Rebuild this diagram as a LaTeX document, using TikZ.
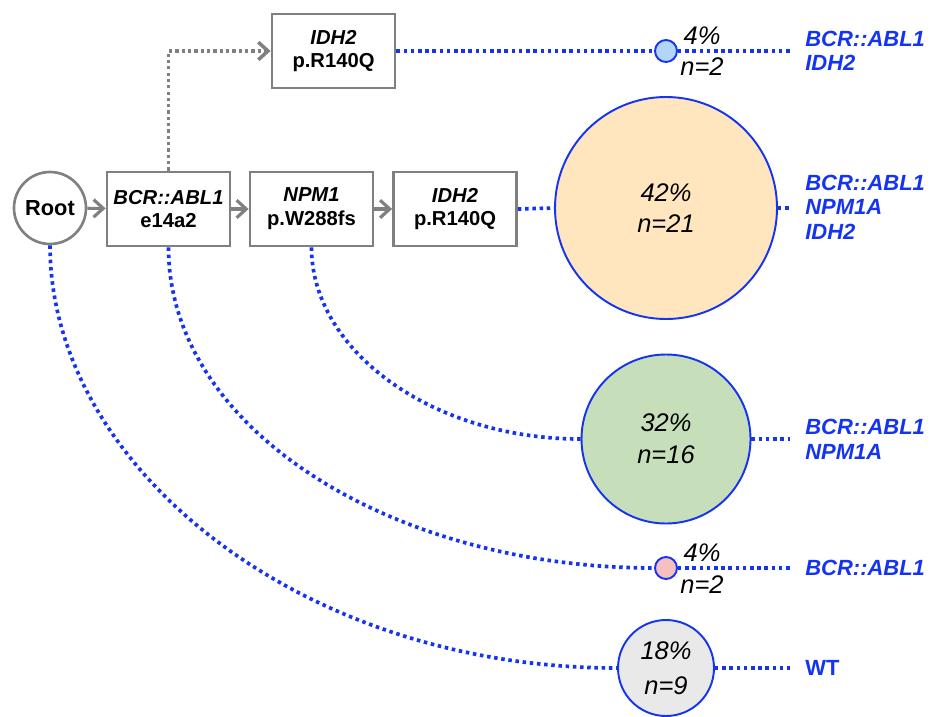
\documentclass[tikz,border=0pt]{standalone}
\usepackage{fontspec}
\setmainfont{Liberation Sans}
\usetikzlibrary{arrows.meta}

\definecolor{treegray}{HTML}{808080}
\definecolor{cloneblue}{HTML}{1434F0}
\definecolor{fillblue}{HTML}{B2D6F6}
\definecolor{fillorange}{HTML}{FFE6BF}
\definecolor{fillgreen}{HTML}{C6DFBA}
\definecolor{fillpink}{HTML}{F7C0C0}
\definecolor{fillgray}{HTML}{E9E9E9}

\tikzset{
  mutbox/.style={draw=treegray, line width=1.6pt, minimum width=2.46cm, minimum height=1.48cm,
    inner sep=0pt, align=center, font=\fontsize{11.5}{13.6}\selectfont\bfseries},
  rootnode/.style={circle, draw=treegray, line width=1.5pt, minimum size=1.44cm, inner sep=0pt,
    font=\fontsize{12.4}{14}\selectfont\bfseries},
  clone/.style={circle, draw=cloneblue, line width=1.1pt, inner sep=0pt, align=center,
    font=\fontsize{14.5}{18}\selectfont\itshape},
  clonetext/.style={align=center, inner sep=0pt, font=\fontsize{14.5}{18}\selectfont\itshape},
  genolabel/.style={anchor=west, align=left, inner sep=0pt, text=cloneblue,
    font=\fontsize{12.5}{14}\selectfont\bfseries\itshape},
  treearrow/.style={->, treegray, line width=1.8pt},
  treedotted/.style={->, treegray, line width=2pt, dash pattern=on 1.8pt off 1.8pt},
  clonelink/.style={cloneblue, line width=2.1pt, dash pattern=on 2pt off 2.1pt},
  clonecurve/.style={out=-90, in=180, out looseness=0.8, in looseness=1.15},
}

\begin{document}
\begin{tikzpicture}[>={Straight Barb[length=5.5pt,width=10pt]}]
\useasboundingbox (0,0) rectangle (18.68,-14.32);

% mutation tree
                \node at (1.00,-4.16) (root) [rootnode] {Root};
                \node at (3.37,-4.18) (bcr) [mutbox] {\itshape BCR::ABL1\\e14a2};
                \node at (6.23,-4.18) (npm) [mutbox] {\itshape NPM1\\p.W288fs};
                \node at (9.10,-4.18) (idhlow) [mutbox] {\itshape IDH2\\p.R140Q};
                \node at (6.67,-1.02) (idhtop) [mutbox] {\itshape IDH2\\p.R140Q};
                \draw [treearrow] (root) -- (bcr);
                \draw [treearrow] (bcr) -- (npm);
                \draw [treearrow] (npm) -- (idhlow);
                \draw [treedotted] (bcr.north) |- (idhtop.west);
                %
                % clones
                \node at (13.32,-1.02) (cloneA) [clone, fill=fillblue, minimum size=0.44cm] {};
                \node at (13.32,-4.16) (cloneB) [clone, fill=fillorange, minimum size=4.44cm] {42\%\\n=21};
                \node at (13.32,-8.78) (cloneC) [clone, fill=fillgreen, minimum size=3.38cm] {32\%\\n=16};
                \node at (13.32,-11.36) (cloneD) [clone, fill=fillpink, minimum size=0.44cm] {};
                \node at (13.32,-13.36) (cloneE) [clone, fill=fillgray, minimum size=1.92cm,
                  font=\fontsize{14.5}{20}\selectfont\itshape] {18\%\\n=9};
                \node at (14.04,-1.02) (pctA) [clonetext] {4\%\\n=2};
                \node at (14.04,-11.37) (pctD) [clonetext] {4\%\\n=2};
                %
                % line ends
                \coordinate (endA) at (15.80,-1.02);
                \coordinate (endB) at (15.80,-4.16);
                \coordinate (endC) at (15.80,-8.78);
                \coordinate (endD) at (15.80,-11.36);
                \coordinate (endE) at (15.80,-13.36);
                %
                % links to clones
                \draw [clonelink] (idhtop.east) -- (cloneA.west);
                \draw [clonelink] (cloneA.east) -- (endA);
                \draw [clonelink] (idhlow.east) -- (cloneB.west);
                \draw [clonelink] (cloneB.east) -- (endB);
                \draw [clonelink] (npm.south) to [clonecurve] (cloneC.west);
                \draw [clonelink] (cloneC.east) -- (endC);
                \draw [clonelink] (bcr.south) to [clonecurve] (cloneD.west);
                \draw [clonelink] (cloneD.east) -- (endD);
                \draw [clonelink] (root.south) to [clonecurve] (cloneE.west);
                \draw [clonelink] (cloneE.east) -- (endE);
                %
                % genotypes
                \node at (16.10,-1.02) (genoA) [genolabel] {BCR::ABL1\\IDH2};
                \node at (16.10,-4.14) (genoB) [genolabel] {BCR::ABL1\\NPM1A\\IDH2};
                \node at (16.10,-8.79) (genoC) [genolabel] {BCR::ABL1\\NPM1A};
                \node at (16.10,-11.36) (genoD) [genolabel] {BCR::ABL1};
                \node at (16.10,-13.36) (genoE) [genolabel] {\upshape WT};
\end{tikzpicture}
\end{document}
